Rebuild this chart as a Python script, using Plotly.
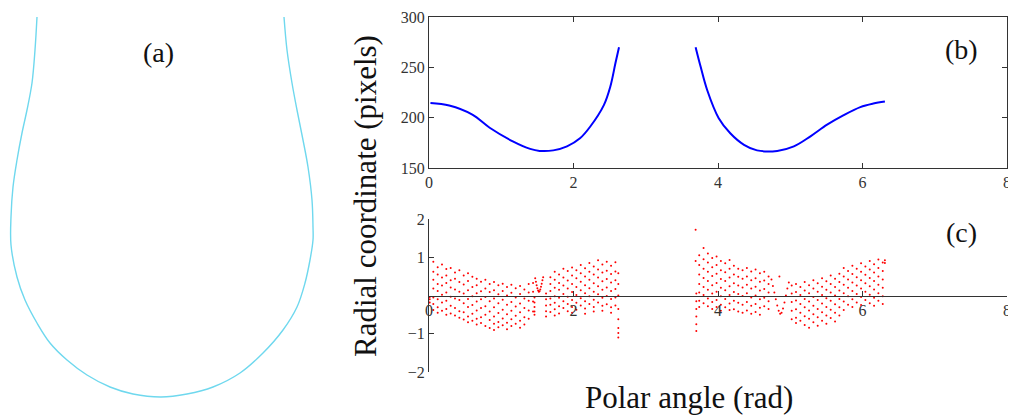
import plotly.graph_objects as go

# (a) drop outline, pixels: x from the drop axis, height above the apex
drop_x = [-124, -126, -129, -134, -139, -144, -148, -150, -150, -144, -136, -124, -111, -94,
          -74, -51, -28, 0, 26, 52, 79, 102, 122, 136, 144, 149, 152, 152, 151, 147, 142, 136,
          131, 126, 123]
drop_h = [380, 347, 314, 287, 264, 237, 210, 180, 152, 120, 97, 74, 54, 37,
          22, 10, 3, 0, 3, 10, 24, 44, 67, 90, 114, 137, 157, 170, 197, 230, 257, 287,
          314, 347, 380]

# (b) radial coordinate of the two edge branches
angle_1 = [0.02, 0.28, 0.60, 0.84, 1.16, 1.40, 1.53, 1.72, 1.91, 2.09, 2.23, 2.42, 2.51, 2.58, 2.63]
radius_1 = [214.5, 212, 203, 190, 176.5, 169, 167, 167.5, 171.5, 179.5, 191, 212.5, 231, 254, 270]
angle_2 = [3.69, 3.76, 3.85, 4.01, 4.17, 4.36, 4.54, 4.82, 5.05, 5.28, 5.51, 5.74, 5.97, 6.15, 6.31]
radius_2 = [270, 250.5, 227.5, 199.5, 184.5, 173, 167.5, 167, 171.5, 181.5, 193, 202.5, 210.5, 214, 216]

# (c) residuals, grouped by angle
res_ang_1 = [0.01, 0.06, 0.12, 0.18, 0.24, 0.30, 0.36, 0.42, 0.48, 0.54, 0.60, 0.66, 0.72, 0.78,
             0.84, 0.90, 0.96, 1.02, 1.08, 1.14, 1.20, 1.26, 1.32, 1.38, 1.44, 1.46, 1.62, 1.68,
             1.74, 1.80, 1.86, 1.92, 1.98, 2.04, 2.10, 2.16, 2.22, 2.28, 2.34, 2.40, 2.46, 2.52,
             2.58, 2.62]
res_val_1 = [
    [-0.04, -0.10, -0.18],
    [0.88, 0.62, 0.41, 0.18, -0.05, -0.22, -0.38],
    [0.74, 0.55, 0.30, 0.12, -0.10, -0.31, -0.45],
    [0.81, 0.47, 0.26, 0.02, -0.18, -0.40],
    [0.69, 0.52, 0.33, 0.08, -0.14, -0.35, -0.50],
    [0.72, 0.40, 0.21, -0.03, -0.27, -0.47],
    [0.60, 0.44, 0.16, -0.08, -0.33, -0.52],
    [0.66, 0.35, 0.10, -0.12, -0.41, -0.58],
    [0.52, 0.29, 0.05, -0.20, -0.44, -0.63],
    [0.58, 0.38, 0.14, -0.09, -0.30, -0.55, -0.70],
    [0.49, 0.22, -0.02, -0.25, -0.48, -0.66],
    [0.44, 0.27, 0.06, -0.16, -0.39, -0.61, -0.76],
    [0.36, 0.11, -0.10, -0.33, -0.57, -0.72],
    [0.41, 0.18, -0.04, -0.28, -0.50, -0.80],
    [0.30, 0.09, -0.15, -0.42, -0.64, -0.85],
    [0.35, 0.14, -0.08, -0.31, -0.55, -0.74, -0.90],
    [0.27, 0.03, -0.20, -0.46, -0.69, -0.83],
    [0.31, 0.12, -0.11, -0.37, -0.60, -0.78],
    [0.22, 0.00, -0.24, -0.49, -0.71, -0.88],
    [0.28, 0.07, -0.17, -0.40, -0.62, -0.80],
    [0.19, -0.05, -0.29, -0.53, -0.74],
    [0.25, 0.04, -0.21, -0.44, -0.66, -0.84],
    [0.16, -0.08, -0.33, -0.57, -0.76],
    [0.30, 0.08, -0.14, -0.39, -0.61],
    [0.33, 0.10, -0.16, -0.42],
    [-0.05, -0.18, -0.30, -0.42, -0.50],
    [0.05, -0.10, -0.26, -0.41, -0.55],
    [0.48, 0.30, 0.12, -0.08, -0.24, -0.43],
    [0.62, 0.41, 0.20, -0.02, -0.19, -0.36, -0.52],
    [0.55, 0.33, 0.15, -0.06, -0.28, -0.47],
    [0.70, 0.47, 0.26, 0.04, -0.15, -0.33],
    [0.64, 0.39, 0.18, -0.03, -0.22, -0.41],
    [0.73, 0.52, 0.30, 0.09, -0.12, -0.30, -0.45],
    [0.66, 0.45, 0.22, 0.01, -0.19, -0.37],
    [0.80, 0.58, 0.36, 0.14, -0.07, -0.26],
    [0.71, 0.50, 0.27, 0.06, -0.15, -0.34, -0.48],
    [0.85, 0.62, 0.41, 0.19, -0.02, -0.22],
    [0.76, 0.55, 0.32, 0.10, -0.11, -0.30, -0.42],
    [0.92, 0.68, 0.47, 0.24, 0.03, -0.18],
    [0.81, 0.60, 0.37, 0.15, -0.06, -0.27, -0.40],
    [0.88, 0.65, 0.43, 0.21, -0.01, -0.23],
    [0.78, 0.56, 0.34, 0.12, -0.09, -0.31, -0.45],
    [0.87, 0.63, 0.40, 0.17, -0.05, -0.26],
    [0.58, 0.30, 0.00, -0.35, -0.62, -0.85, -0.98, -1.10],
]
res_ang_2 = [3.69, 3.70, 3.74, 3.80, 3.86, 3.92, 3.98, 4.04, 4.10, 4.16, 4.22, 4.28, 4.34, 4.40,
             4.46, 4.52, 4.58, 4.64, 4.70, 4.85, 5.02, 5.08, 5.14, 5.20, 5.26, 5.32, 5.38, 5.44,
             5.50, 5.56, 5.62, 5.68, 5.74, 5.80, 5.86, 5.92, 5.98, 6.04, 6.10, 6.16, 6.22, 6.28,
             6.31]
res_val_2 = [
    [1.72, 0.90],
    [0.05, -0.15, -0.35, -0.55, -0.75, -0.93],
    [1.05, 0.80, 0.55, 0.30, 0.08, -0.14, -0.30],
    [1.24, 0.95, 0.70, 0.46, 0.22, 0.01, -0.20],
    [1.10, 0.86, 0.62, 0.38, 0.15, -0.08, -0.28],
    [0.98, 0.74, 0.51, 0.27, 0.05, -0.17, -0.35],
    [1.02, 0.80, 0.57, 0.33, 0.10, -0.12, -0.30],
    [0.90, 0.66, 0.43, 0.20, -0.02, -0.24, -0.40],
    [0.84, 0.61, 0.38, 0.14, -0.09, -0.31],
    [0.93, 0.70, 0.47, 0.24, 0.01, -0.21, -0.38],
    [0.78, 0.55, 0.32, 0.09, -0.14, -0.36],
    [0.70, 0.49, 0.26, 0.04, -0.19, -0.42],
    [0.66, 0.44, 0.21, -0.01, -0.24, -0.45],
    [0.72, 0.50, 0.28, 0.06, -0.17, -0.39],
    [0.63, 0.40, 0.18, -0.05, -0.27, -0.48],
    [0.68, 0.45, 0.23, 0.00, -0.22, -0.43],
    [0.58, 0.36, 0.13, -0.10, -0.32, -0.50],
    [0.62, 0.39, 0.17, -0.06, -0.28],
    [0.50, 0.30, 0.08, -0.15, -0.35],
    [0.50],
    [0.26, 0.05, -0.17, -0.40, -0.62],
    [0.30, 0.09, -0.13, -0.36, -0.58, -0.72],
    [0.22, 0.01, -0.22, -0.45, -0.66],
    [0.35, 0.13, -0.09, -0.31, -0.54, -0.77],
    [0.27, 0.06, -0.16, -0.39, -0.61, -0.84],
    [0.40, 0.18, -0.04, -0.27, -0.49, -0.70],
    [0.32, 0.10, -0.12, -0.35, -0.57, -0.79],
    [0.45, 0.23, 0.01, -0.21, -0.44, -0.66],
    [0.37, 0.15, -0.07, -0.30, -0.52, -0.74],
    [0.52, 0.30, 0.08, -0.14, -0.37, -0.59],
    [0.44, 0.22, 0.00, -0.23, -0.45, -0.68],
    [0.57, 0.35, 0.13, -0.09, -0.31, -0.52],
    [0.72, 0.50, 0.28, 0.06, -0.16, -0.38],
    [0.64, 0.42, 0.20, -0.02, -0.24],
    [0.78, 0.56, 0.34, 0.12, -0.10, -0.30],
    [0.70, 0.48, 0.26, 0.04, -0.18],
    [0.84, 0.62, 0.40, 0.18, -0.04, -0.25],
    [0.76, 0.54, 0.32, 0.10, -0.12],
    [0.90, 0.68, 0.46, 0.24, 0.02, -0.20],
    [0.82, 0.60, 0.38, 0.16, -0.06, -0.27],
    [0.94, 0.72, 0.50, 0.28, 0.06, -0.14],
    [0.86, 0.64, 0.42, 0.20, -0.02, -0.22],
    [0.92, 0.85],
]
# the two smooth dips in the residuals
dip_ang_1 = [1.47, 1.48, 1.49, 1.50, 1.51, 1.52, 1.53, 1.54, 1.55, 1.56, 1.57, 1.58]
dip_val_1 = [0.45, 0.36, 0.27, 0.19, 0.13, 0.10, 0.11, 0.16, 0.23, 0.31, 0.40, 0.48]
dip_ang_2 = [4.74, 4.76, 4.78, 4.80, 4.82, 4.84, 4.86, 4.88, 4.90, 4.92, 4.94, 4.96, 4.98]
dip_val_2 = [0.42, 0.25, 0.08, -0.10, -0.26, -0.40, -0.48, -0.45, -0.34, -0.18, 0.00, 0.18, 0.34]

res_x = []
res_y = []
for angs, vals in [(res_ang_1, res_val_1), (res_ang_2, res_val_2)]:
    for a, col in zip(angs, vals):
        res_x += [a] * len(col)
        res_y += col
res_x += dip_ang_1 + dip_ang_2
res_y += dip_val_1 + dip_val_2

# the page body adds an 8px margin, so the figure is drawn 8px smaller
# and window pixels are converted to paper fractions
OFF = 8
W, H = 1016 - OFF, 416 - OFF


def px(x):
    return (x - OFF) / W


def py(y):
    return 1 - (y - OFF) / H


serif = 'Liberation Serif, Times New Roman, serif'
axis_col = '#333'

fig = go.Figure()
fig.add_trace(go.Scatter(x=drop_x, y=drop_h, mode='lines', line=dict(color='#6fd8ee', width=1.4, shape='spline'),
                         xaxis='x', yaxis='y'))
fig.add_trace(go.Scatter(x=angle_1, y=radius_1, mode='lines', line=dict(color='#0000ff', width=2, shape='spline'),
                         xaxis='x2', yaxis='y2'))
fig.add_trace(go.Scatter(x=angle_2, y=radius_2, mode='lines', line=dict(color='#0000ff', width=2, shape='spline'),
                         xaxis='x2', yaxis='y2'))
fig.add_trace(go.Scatter(x=res_x, y=res_y, mode='markers', marker=dict(color='#ff0000', size=2),
                         xaxis='x3', yaxis='y3'))

dom_x = [px(429), px(1007)]
common = dict(showgrid=False, zeroline=False, showline=True, linecolor=axis_col, linewidth=1.2,
              ticks='inside', ticklen=5, tickcolor=axis_col, automargin=False,
              tickfont=dict(family=serif, size=16, color=axis_col))

fig.update_layout(
    width=W, height=H,
    margin=dict(l=0, r=0, t=0, b=0, pad=0, autoexpand=False),
    paper_bgcolor='white', plot_bgcolor='rgba(0,0,0,0)',
    showlegend=False,
    xaxis=dict(domain=[0, px(330)], range=[OFF - 161, 330 - 161], visible=False),
    yaxis=dict(domain=[0, 1], range=[397 - 416, 397 - OFF], visible=False),
    xaxis2=dict(domain=dom_x, range=[0, 8], tickvals=[0, 2, 4, 6, 8], anchor='y2', mirror='ticks', **common),
    yaxis2=dict(domain=[py(168), py(17)], range=[150, 300], tickvals=[150, 200, 250, 300],
                anchor='x2', mirror='ticks', **common),
    xaxis3=dict(domain=dom_x, range=[0, 8], tickvals=[0, 2, 4, 6, 8], anchor='free',
                position=py(296), **common),
    yaxis3=dict(domain=[py(372), py(219)], range=[-2, 2], tickvals=[-2, -1, 1, 2],
                anchor='x3', **common),
)

labels = [('(a)', 158, 52), ('(b)', 961, 50), ('(c)', 961, 232)]
for txt, lx, ly in labels:
    fig.add_annotation(text=txt, x=px(lx), y=py(ly), xref='paper', yref='paper', showarrow=False,
                       xanchor='center', yanchor='middle', font=dict(family=serif, size=28, color='#111'))
fig.add_annotation(text='Radial coordinate (pixels)', x=px(366), y=py(196), xref='paper', yref='paper',
                   textangle=-90, showarrow=False, xanchor='center', yanchor='middle',
                   font=dict(family=serif, size=31, color='#111'))
fig.add_annotation(text='Polar angle (rad)', x=px(689), y=py(397), xref='paper', yref='paper',
                   showarrow=False, xanchor='center', yanchor='middle',
                   font=dict(family=serif, size=31, color='#111'))

fig.write_html('out.html')
